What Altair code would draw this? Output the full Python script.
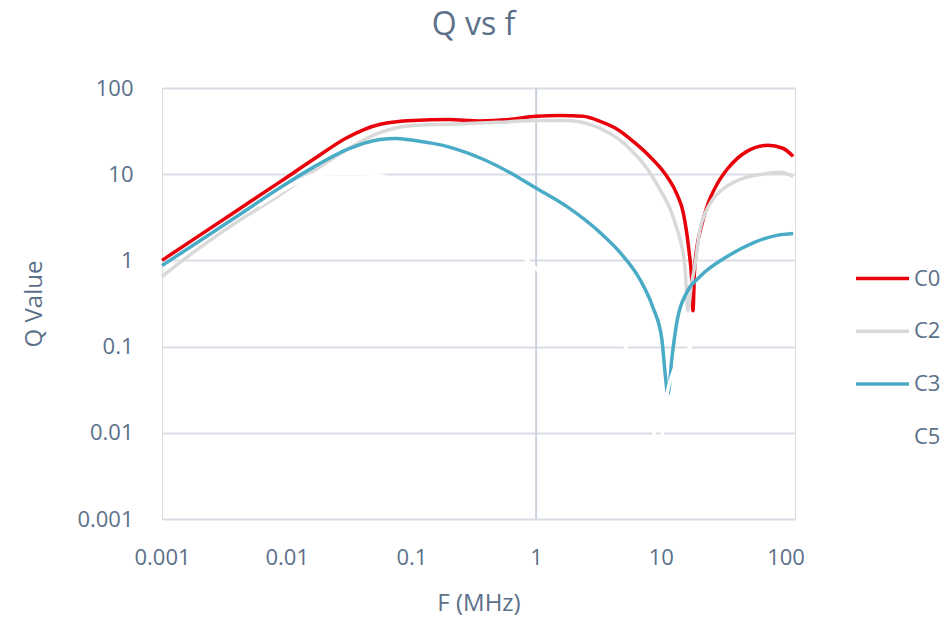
import altair as alt
import pandas as pd

# ---- data ----
series_names = ["C0", "C2", "C3", "C5"]
series_colors = ["#e8000b", "#d9d9d9", "#4aabc6", "#ffffff"]

c0_f = [0.001, 0.002, 0.004, 0.0089, 0.0163, 0.0306, 0.0562, 0.103, 0.2, 0.35, 0.6, 1.0, 1.56, 2.38,
        3.26, 4.5, 6.0, 8.0, 11.2, 13.5, 15.1, 16.8, 17.6, 18.1, 18.6, 19.5, 21, 23.4, 28, 34, 49, 72, 95, 115]
c0_q = [1.0, 1.95, 3.8, 8.2, 14.8, 26.7, 38, 42, 43, 41.5, 43, 47, 48, 47,
        41, 33, 24, 16.5, 9.4, 5.8, 3.6, 1.3, 0.65, 0.26, 0.75, 1.45, 2.4, 4.2, 7.5, 11.4, 18.4, 21.6, 20, 16.1]

c2_f = [0.001, 0.002, 0.004, 0.0089, 0.0163, 0.0306, 0.0562, 0.103, 0.2, 0.5, 1.0, 1.77, 3.26, 4.5,
        6.0, 7.8, 9.8, 12, 13.5, 14.8, 15.6, 16.5, 17.5, 18.8, 20.6, 23, 26, 31, 38, 48, 62, 90, 115]
c2_q = [0.65, 1.4, 2.8, 5.8, 10.8, 19.4, 30.5, 36.8, 38, 40, 42, 42, 34, 26,
        18, 11.5, 6.7, 3.8, 2.3, 1.4, 0.85, 0.26, 0.5, 0.9, 2.3, 3.7, 5.1, 6.6, 8.0, 9.2, 9.9, 10.5, 9.4]

c3_f = [0.001, 0.002, 0.004, 0.0089, 0.0163, 0.0306, 0.0562, 0.075, 0.103, 0.205, 0.376, 0.70, 0.95,
        1.77, 3.26, 4.7, 6.8, 8.6, 10.2, 10.8, 11.4, 12.3, 13.5, 16.2, 20.6, 34, 55, 85, 115]
c3_q = [0.87, 1.68, 3.25, 7.0, 12, 19.4, 25.3, 26, 24.7, 20.5, 14.9, 9.4, 7.2,
        4.2, 2.1, 1.24, 0.6, 0.29, 0.12, 0.05, 0.028, 0.077, 0.2, 0.43, 0.65, 1.11, 1.6, 1.95, 2.05]

c5_f = [0.006, 0.0113, 0.0176, 0.035, 0.053, 0.12, 0.3, 0.85, 1.0, 2.5, 5.2, 8.8, 9.6, 10.3,
        11.3, 12.5, 17.2, 19]
c5_q = [4.3, 7.6, 10, 10.2, 9.8, 6, 2.6, 1.0, 0.8, 0.28, 0.1, 0.01, 0.006, 0.01,
        0.03, 0.05, 0.1, 0.13]

x_ticks = [0.001, 0.01, 0.1, 1, 10, 100]
y_ticks = [0.001, 0.01, 0.1, 1, 10, 100]
x_axis_line = [1.0]

rows = []
for name, fs, qs in zip(series_names, [c0_f, c2_f, c3_f, c5_f], [c0_q, c2_q, c3_q, c5_q]):
    for f, q in zip(fs, qs):
        rows.append({"series": name, "f": f, "q": q})
df = pd.DataFrame(rows)

text_color = "#5b7089"
font = "Open Sans"

xscale = alt.Scale(type="log", domain=[0.001, 119], nice=False)
yscale = alt.Scale(type="log", domain=[0.001, 100], nice=False)

xaxis = alt.Axis(values=x_ticks, format="~g", title="F (MHz)", grid=False, domain=False,
                 ticks=False, tickSize=0, labelFlush=False, labelOverlap=False,
                 labelPadding=28, titlePadding=23, labelFontSize=22, titleFontSize=24,
                 labelColor=text_color, titleColor=text_color, labelFont=font, titleFont=font,
                 titleFontWeight="normal")
yaxis = alt.Axis(values=y_ticks, format="~g", title="Q Value", grid=True, gridColor="#d9dee6",
                 gridWidth=2, domain=False, ticks=False, tickSize=0, labelFlush=False,
                 labelOverlap=False, labelPadding=29, titlePadding=30, labelFontSize=22,
                 titleFontSize=24, labelColor=text_color, titleColor=text_color,
                 labelFont=font, titleFont=font, titleFontWeight="normal")

rule = alt.Chart(pd.DataFrame({"f": x_axis_line})).mark_rule(
    color="#c9d1dc", strokeWidth=2
).encode(x=alt.X("f:Q", scale=xscale, axis=xaxis))

lines = alt.Chart(df).mark_line(strokeWidth=3.5, interpolate="monotone", strokeJoin="round").encode(
    x=alt.X("f:Q", scale=xscale, axis=xaxis),
    y=alt.Y("q:Q", scale=yscale, axis=yaxis),
    color=alt.Color(
        "series:N",
        scale=alt.Scale(domain=series_names, range=series_colors),
        title=None,
        legend=alt.Legend(
            orient="none", legendX=692, legendY=162, symbolType="stroke",
            symbolSize=2809, symbolStrokeWidth=3.5, rowPadding=12.7, padding=0,
            labelOffset=3, labelFontSize=22, labelColor=text_color, labelFont=font,
        ),
    ),
)

chart = alt.layer(rule, lines).properties(
    width=633,
    height=431,
    autosize=alt.AutoSizeParams(type="none"),
    padding={"left": 162, "top": 88, "right": 157, "bottom": 99},
    title=alt.TitleParams("Q vs f", fontSize=32, font=font, color=text_color, fontWeight="normal",
                          anchor="middle", frame="group", offset=35, dx=-5),
).configure_view(stroke=None).configure(background="white")

chart.save("out.html", embed_options={"renderer": "svg", "actions": False})
